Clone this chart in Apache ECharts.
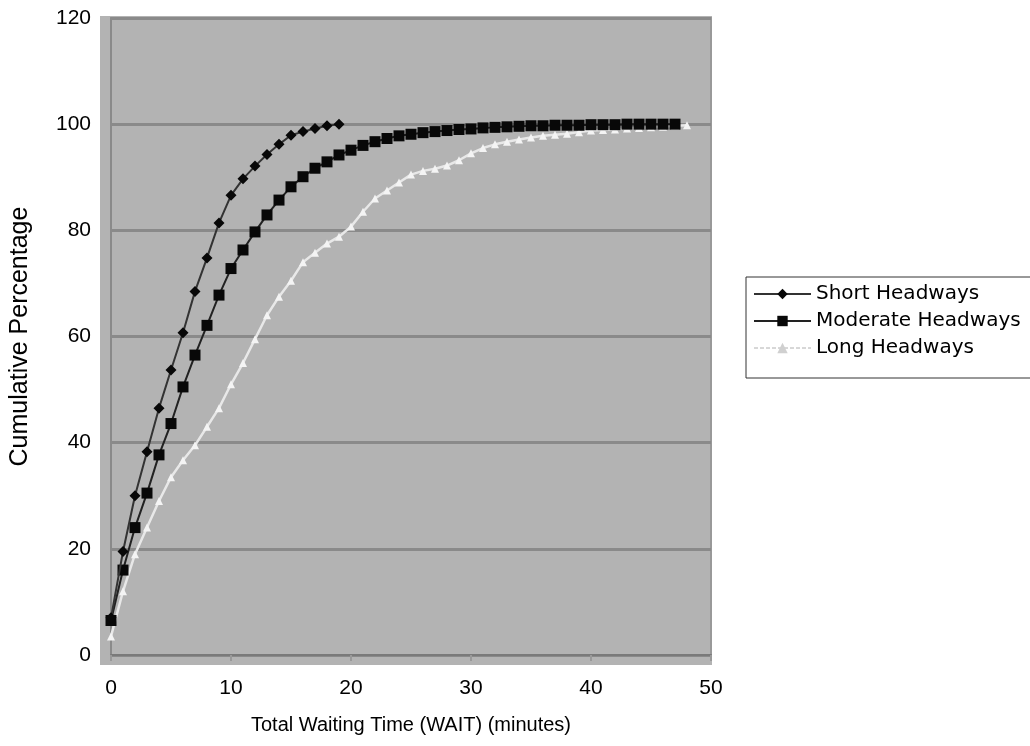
<!DOCTYPE html>
<html>
<head>
<meta charset="utf-8">
<script src="https://cdn.jsdelivr.net/npm/echarts@6/dist/echarts.min.js"></script>
<style>html,body{margin:0;padding:0;background:#fff;}#c{width:1030px;height:746px;}</style>
</head>
<body>
<div id="c"></div>
<script>
var xTicks = [0, 10, 20, 30, 40, 50];
var yTicks = [0, 20, 40, 60, 80, 100, 120];
var shortX = [0,1,2,3,4,5,6,7,8,9,10,11,12,13,14,15,16,17,18,19];
var shortY = [7,19.5,30,38.3,46.5,53.7,60.7,68.5,74.8,81.4,86.6,89.7,92.1,94.3,96.2,97.9,98.6,99.2,99.7,100];
var moderateX = [0,1,2,3,4,5,6,7,8,9,10,11,12,13,14,15,16,17,18,19,20,21,22,23,24,25,26,27,28,29,30,31,32,33,34,35,36,37,38,39,40,41,42,43,44,45,46,47];
var moderateY = [6.5,16,24,30.5,37.7,43.6,50.5,56.5,62.1,67.8,72.8,76.3,79.7,82.9,85.7,88.2,90.1,91.7,92.9,94.2,95.1,96,96.7,97.3,97.8,98.1,98.4,98.6,98.8,99,99.1,99.3,99.4,99.5,99.6,99.7,99.7,99.8,99.8,99.8,99.9,99.9,99.9,100,100,100,100,100];
var longX = [0,1,2,3,4,5,6,7,8,9,10,11,12,13,14,15,16,17,18,19,20,21,22,23,24,25,26,27,28,29,30,31,32,33,34,35,36,37,38,39,40,41,42,43,44,45,46,47,48];
var longY = [3.5,12,19,24,29,33.5,36.7,39.5,43,46.5,51,55,59.5,64,67.5,70.5,74,75.8,77.5,78.8,80.7,83.5,86,87.5,89,90.5,91.2,91.6,92.2,93.2,94.5,95.5,96.2,96.7,97.1,97.5,97.8,98,98.2,98.5,98.8,98.9,99,99.2,99.3,99.4,99.5,99.7,99.8];

function pairs(xs, ys){ return xs.map(function(x,i){ return [x, ys[i]]; }); }

var chart = echarts.init(document.getElementById('c'));
var font = 'Liberation Sans, Arial, sans-serif';
chart.setOption({
  animation: false,
  backgroundColor: '#ffffff',
  graphic: [{
    type: 'rect', z: -10, silent: true,
    shape: { x: 100, y: 16, width: 612, height: 649 },
    style: { fill: '#b3b3b3' }
  }],
  grid: {
    left: 109, right: 319, top: 18, bottom: 91,
    show: true, backgroundColor: 'transparent', borderColor: '#999', borderWidth: 2
  },
  xAxis: {
    type: 'value', min: xTicks[0], max: xTicks[xTicks.length-1], interval: 10,
    name: 'Total Waiting Time (WAIT) (minutes)', nameLocation: 'middle', nameGap: 60,
    nameTextStyle: { fontFamily: font, fontSize: 20, color: '#000' },
    axisLine: { show: true, lineStyle: { color: '#7a7a7a', width: 2 } },
    axisTick: { show: true, length: 6, lineStyle: { color: '#999', width: 2 } },
    axisLabel: { fontFamily: font, fontSize: 21, color: '#000', margin: 23 },
    splitLine: { show: false }
  },
  yAxis: {
    type: 'value', min: yTicks[0], max: yTicks[yTicks.length-1], interval: 20,
    name: 'Cumulative Percentage', nameLocation: 'middle', nameGap: 78,
    nameTextStyle: { fontFamily: font, fontSize: 25, color: '#000' },
    axisLine: { show: true, lineStyle: { color: '#8a8a8a', width: 2 } },
    axisTick: { show: false },
    axisLabel: { fontFamily: font, fontSize: 21, color: '#000', margin: 20 },
    splitLine: { show: true, lineStyle: { color: '#8a8a8a', width: 3 } }
  },
  legend: {
    orient: 'vertical', left: 746, top: 277,
    backgroundColor: '#fff', borderColor: '#333', borderWidth: 1,
    padding: [7, 10, 20, 7], itemGap: 7, itemWidth: 57, itemHeight: 13,
    textStyle: { fontFamily: 'DejaVu Sans, sans-serif', fontSize: 20, color: '#000' },
    data: [
      { name: 'Short Headways' },
      { name: 'Moderate Headways' },
      { name: 'Long Headways', itemStyle: { color: '#d0d0d0' }, lineStyle: { color: '#b0b0b0', type: 'dashed', width: 1 } }
    ]
  },
  series: [
    {
      name: 'Short Headways', type: 'line', data: pairs(shortX, shortY),
      symbol: 'diamond', symbolSize: 11, showAllSymbol: true,
      itemStyle: { color: '#080808' }, lineStyle: { color: '#333', width: 2 }, z: 4
    },
    {
      name: 'Moderate Headways', type: 'line', data: pairs(moderateX, moderateY),
      symbol: 'rect', symbolSize: 11, showAllSymbol: true,
      itemStyle: { color: '#080808' }, lineStyle: { color: '#222', width: 2 }, z: 3
    },
    {
      name: 'Long Headways', type: 'line', data: pairs(longX, longY),
      symbol: 'triangle', symbolSize: 8, showAllSymbol: true,
      itemStyle: { color: '#f4f4f4' }, lineStyle: { color: '#e8e8e8', width: 2.5 }, z: 2
    }
  ]
});
</script>
</body>
</html>
